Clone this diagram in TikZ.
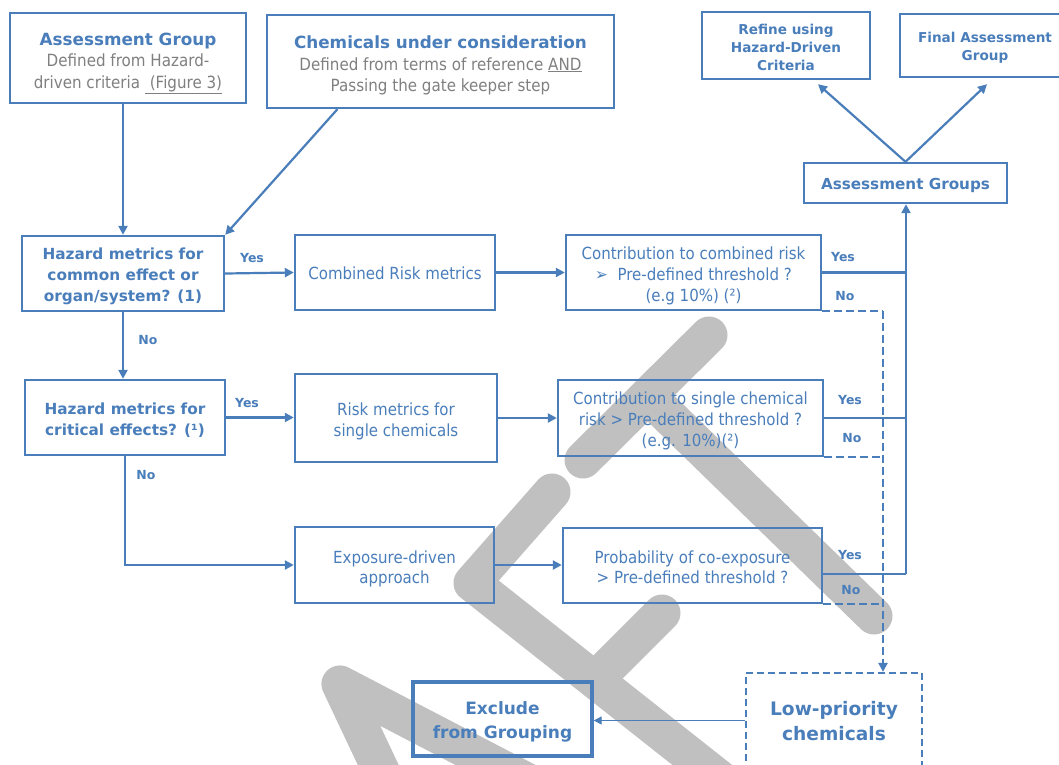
\documentclass[tikz,border=0pt]{standalone}
\usepackage{fontspec}
\setmainfont{DejaVu Sans}
\newfontfamily\rgfont{DejaVu Sans}[FakeStretch=0.9]
\usetikzlibrary{arrows.meta,calc}
\definecolor{flowblue}{RGB}{74,126,187}
\definecolor{txtgray}{RGB}{128,128,128}
\definecolor{wmgray}{RGB}{192,192,192}
% invisible strut that sets the height of a box's first line
\newcommand\lift[1]{\rule{0pt}{#1pt}}

\begin{document}
\begin{tikzpicture}[x=1pt,y=-1pt,
  box/.style={draw=flowblue, line width=2.4pt, inner sep=0pt, align=center, text=flowblue},
  dbox/.style={box, dash pattern=on 7pt off 4pt, line width=2.2pt},
  rg/.style={font=\rgfont\fontsize{16.7}{21}\selectfont},
  headbox/.style={box, font=\fontsize{16.8}{21.5}\selectfont},
  midbold/.style={font=\fontsize{15.3}{21}\selectfont\bfseries},
  smallbold/.style={font=\fontsize{13.6}{18.2}\selectfont\bfseries},
  lab/.style={text=flowblue, inner sep=0pt, font=\fontsize{12.5}{14}\selectfont\bfseries},
  tip/.style={-{Triangle[length=9pt,width=9pt]}},
  conn/.style={draw=flowblue, line width=2.2pt, tip},
  link/.style={draw=flowblue, line width=2.4pt},
  dlink/.style={draw=flowblue, line width=2.4pt, dash pattern=on 8pt off 4pt},
  thinconn/.style={draw=flowblue, line width=1.2pt, -{Triangle[length=8pt,width=8pt]}}
]
\useasboundingbox (0,0) rectangle (1059,764);
\fill[white] (0,0) rectangle (1059,764);

% background lettering
\begin{scope}[draw=wmgray, line width=37pt, line cap=round, line join=round]
  \draw (709,335) -- (583,460);
  \draw (648,396) -- (874,616);
  \draw (552,492) -- (472,583) -- (820,858);
  \draw (595,680) -- (662,613);
  \draw (580,809) -- (340,684) -- (400,811);
\end{scope}

% top row
\node[headbox, minimum width=236pt, minimum height=90pt] (ag) at (128,58)
  {\lift{23}{\bfseries Assessment Group}\\
   {\color{txtgray}\rgfont Defined from Hazard-}\\
   {\color{txtgray}\rgfont driven criteria \underline{\ (Figure 3)}}};
\node[headbox, minimum width=347pt, minimum height=93pt] (chem) at (440.5,61.5)
  {\lift{20.5}{\bfseries Chemicals under consideration}\\
   {\color{txtgray}\rgfont Defined from terms of reference \underline{AND}}\\
   {\color{txtgray}\rgfont Passing the gate keeper step}};
\node[box, smallbold, minimum width=168pt, minimum height=67pt] (ref) at (786,45.5)
  {\lift{14.3}Refine using\\Hazard-Driven\\Criteria};
\node[box, smallbold, minimum width=170pt, minimum height=63pt] (fin) at (985,45.5)
  {\lift{15.3}Final Assessment\\Group};
\node[box, font=\fontsize{15.2}{18}\selectfont\bfseries, minimum width=203pt, minimum height=40pt] (ags) at (905.5,183)
  {\lift{15.5}Assessment Groups};

% first branch
\node[box, midbold, minimum width=202pt, minimum height=75pt] (hz1) at (123,273.5)
  {\lift{17.6}Hazard metrics for\\common effect or\\organ/system? (1)};
\node[box, rg, minimum width=200pt, minimum height=75pt] (crm) at (395,272.5)
  {\lift{14.7}Combined Risk metrics};
\node[box, rg, minimum width=255pt, minimum height=75pt] (ccr) at (693.5,272.5)
  {\lift{18.7}Contribution to combined risk\\{\fontsize{17}{21}\selectfont ➢}\ \ Pre-defined threshold ?\\(e.g 10\%) (²)};

% second branch
\node[box, midbold, minimum width=200pt, minimum height=75pt] (hz2) at (125,417.5)
  {\lift{17.6}Hazard metrics for\\critical effects? (¹)};
\node[box, rg, minimum width=202pt, minimum height=88pt] (rms) at (396,418)
  {\lift{18.7}Risk metrics for\\single chemicals};
\node[box, rg, minimum width=265pt, minimum height=76pt] (cs) at (690.5,418)
  {\lift{18.7}Contribution to single chemical\\risk > Pre-defined threshold ?\\(e.g. 10\%)(²)};

% third branch
\node[box, rg, font=\rgfont\fontsize{16.7}{20}\selectfont, minimum width=199pt, minimum height=76pt] (exp) at (394.5,565)
  {\lift{20.7}Exposure-driven\\approach};
\node[box, rg, font=\rgfont\fontsize{16.7}{20}\selectfont, minimum width=259pt, minimum height=75pt] (prob) at (692.5,565.5)
  {\lift{16.7}Probability of co-exposure\\> Pre-defined threshold ?};

% outcomes
\node[box, line width=3.4pt, font=\fontsize{17}{24}\selectfont\bfseries, minimum width=179pt, minimum height=74pt] (exc) at (502.5,719)
  {\lift{18.9}Exclude\\from Grouping};
\node[dbox, font=\fontsize{18.6}{25}\selectfont\bfseries, minimum width=176pt, minimum height=95pt] (lp) at (834,720.5)
  {\lift{16.1}Low-priority\\chemicals};

% decision labels
\node[lab] (y1) at (252,258) {Yes};
\node[lab] (n1) at (148,340) {No};
\node[lab] (y2) at (247,403) {Yes};
\node[lab] (n2) at (146,475) {No};
\node[lab] (y3) at (843,257) {Yes};
\node[lab] (n3) at (845,296) {No};
\node[lab] (y4) at (850,400) {Yes};
\node[lab] (n4) at (852,438) {No};
\node[lab] (y5) at (850,555) {Yes};
\node[lab] (n5) at (851,590) {No};

% helper points
\coordinate (bus) at (906,574);
\coordinate (drop) at (883,312);

% connectors
\draw[conn] (ag.south -| hz1.north) -- (hz1.north);
\draw[conn] ($(chem.south west)!0.205!(chem.south east)$) -- (hz1.north east);
\draw[conn] (hz1.east) -- (crm.west);
\draw[conn] (crm.east) -- (crm.east -| ccr.west);
\draw[conn] (hz1.south) -- (hz1.south |- hz2.north);
\draw[conn] (hz2.east) -- (hz2.east -| rms.west);
\draw[conn] (rms.east) -- (rms.east -| cs.west);
\draw[conn] (hz2.south) |- (exp.west);
\draw[conn] (exp.east) -- (exp.east -| prob.west);

\draw[link] ($(prob.east)+(0,8.5)$) -- (bus);
\draw[link] (ccr.east) -- (ccr.east -| bus);
\draw[link] (cs.east) -- (cs.east -| bus);
\draw[conn] (bus) -- (bus |- ags.south);

\draw[dlink] (ccr.south east) -- (ccr.south east -| drop);
\draw[dlink] (cs.south east) -- (cs.south east -| drop);
\draw[dlink] (prob.south east) -- (prob.south east -| drop);
\draw[dlink, tip] (ccr.south east -| drop) -- (drop |- lp.north);

\draw[thinconn] (lp.west) -- (lp.west -| exc.east);

\draw[conn] (ags.north) -- ($(ref.south)+(32,4)$);
\draw[conn] (ags.north) -- ($(fin.south)+(2,6)$);
\end{tikzpicture}
\end{document}
